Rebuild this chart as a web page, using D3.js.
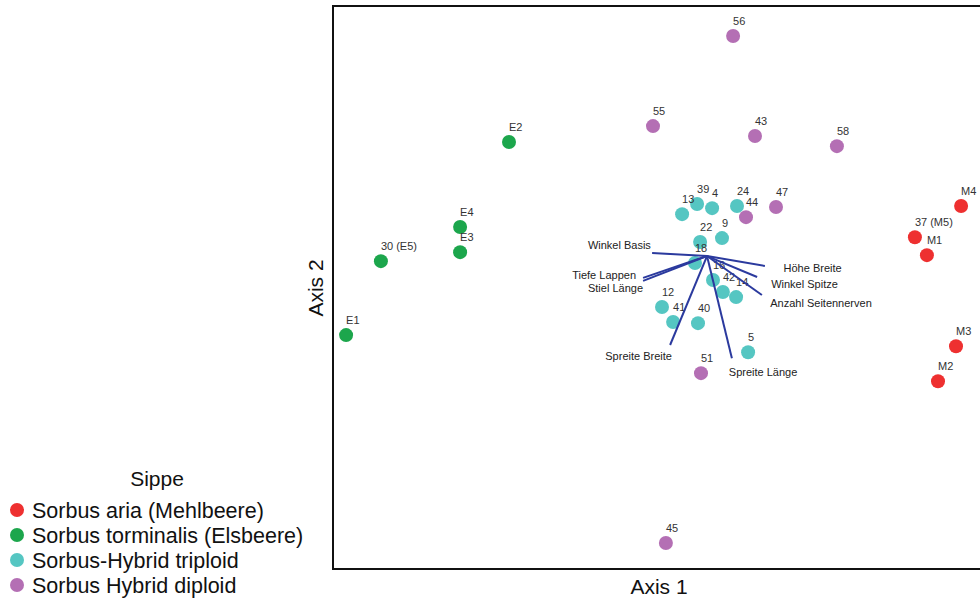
<!DOCTYPE html>
<html>
<head>
<meta charset="utf-8">
<script src="https://cdn.jsdelivr.net/npm/d3@7"></script>
<style>
  body { margin: 0; background: #fff; }
  svg { font-family: "Liberation Sans", Arial, sans-serif; }
</style>
</head>
<body>
<div id="chart"></div>
<script>
// groups (Sippe)
var groups = ["Sorbus aria (Mehlbeere)", "Sorbus torminalis (Elsbeere)", "Sorbus-Hybrid triploid", "Sorbus Hybrid diploid"];
var groupColors = ["#ee3030", "#1ca64c", "#55c6c2", "#b46fb4"];

// site scores: label, group index, axis 1, axis 2
var siteLabels = ["M4", "37 (M5)", "M1", "M3", "M2",
    "E2", "E4", "E3", "30 (E5)", "E1",
    "13", "39", "4", "24", "22", "9", "18", "16", "42", "14", "12", "41", "40", "5",
    "56", "55", "43", "58", "47", "44", "51", "45"];
var siteGroup = [0, 0, 0, 0, 0,
    1, 1, 1, 1, 1,
    2, 2, 2, 2, 2, 2, 2, 2, 2, 2, 2, 2, 2, 2,
    3, 3, 3, 3, 3, 3, 3, 3];
var axis1 = [0.847, 0.693, 0.733, 0.830, 0.770,
    -0.660, -0.823, -0.823, -1.087, -1.203,
    -0.083, -0.033, 0.017, 0.100, -0.023, 0.050, -0.040, 0.020, 0.053, 0.097, -0.150, -0.113, -0.030, 0.137,
    0.087, -0.180, 0.160, 0.433, 0.230, 0.130, -0.020, -0.137];
var axis2 = [0.167, 0.063, 0.003, -0.301, -0.418,
    0.381, 0.097, 0.013, -0.017, -0.264,
    0.140, 0.174, 0.160, 0.167, 0.047, 0.060, -0.023, -0.080, -0.120, -0.137, -0.170, -0.220, -0.224, -0.321,
    0.735, 0.434, 0.401, 0.367, 0.164, 0.130, -0.391, -0.958];

// fitted variables (arrows from origin) and where their names sit
var varNames = ["Winkel Basis", "Tiefe Lappen", "Stiel Länge", "Höhe Breite", "Winkel Spitze",
    "Anzahl Seitennerven", "Spreite Breite", "Spreite Länge"];
var varAxis1 = [-0.183, -0.213, -0.213, 0.193, 0.167, 0.183, -0.123, 0.083];
var varAxis2 = [0.010, -0.073, -0.083, -0.033, -0.070, -0.130, -0.297, -0.341];
var varLabel1 = [-0.292, -0.343, -0.305, 0.352, 0.325, 0.380, -0.228, 0.187];
var varLabel2 = [0.037, -0.063, -0.107, -0.040, -0.093, -0.157, -0.334, -0.387];

var svg = d3.select("#chart").append("svg")
    .attr("width", 980)
    .attr("height", 600);

var x = d3.scaleLinear()
    .domain([-1.25, 1])
    .range([332, 1007]);

var y = d3.scaleLinear()
    .domain([-1.045, 0.835])
    .range([569, 6]);

// plot frame (right side runs off the picture)
svg.append("rect")
    .attr("x", x(-1.25) + 1)
    .attr("y", y(0.835))
    .attr("width", 700)
    .attr("height", y(-1.045) - y(0.835))
    .attr("fill", "none")
    .attr("stroke", "#111")
    .attr("stroke-width", 2);

var sites = siteLabels.map(function (d, i) {
    return { label: d, g: siteGroup[i], a1: axis1[i], a2: axis2[i] };
});

var g = svg.append("g");

g.selectAll("circle.site")
    .data(sites)
    .enter().append("circle")
    .attr("class", "site")
    .attr("cx", function (d) { return x(d.a1); })
    .attr("cy", function (d) { return y(d.a2); })
    .attr("r", 7)
    .attr("fill", function (d) { return groupColors[d.g]; });

g.selectAll("text.site")
    .data(sites)
    .enter().append("text")
    .attr("class", "site")
    .attr("x", function (d) { return x(d.a1); })
    .attr("y", function (d) { return y(d.a2) - 11; })
    .attr("font-size", 11)
    .attr("fill", "#333")
    .text(function (d) { return d.label; });

// arrows
var vars = varNames.map(function (d, i) {
    return { name: d, a1: varAxis1[i], a2: varAxis2[i], l1: varLabel1[i], l2: varLabel2[i] };
});

g.selectAll("line.var")
    .data(vars)
    .enter().append("line")
    .attr("class", "var")
    .attr("x1", x(0))
    .attr("y1", y(0))
    .attr("x2", function (d) { return x(d.a1); })
    .attr("y2", function (d) { return y(d.a2); })
    .attr("stroke", "#2b3a9e")
    .attr("stroke-width", 2);

g.selectAll("text.var")
    .data(vars)
    .enter().append("text")
    .attr("class", "var")
    .attr("x", function (d) { return x(d.l1); })
    .attr("y", function (d) { return y(d.l2) + 4; })
    .attr("text-anchor", "middle")
    .attr("font-size", 11)
    .attr("fill", "#222")
    .text(function (d) { return d.name; });

// axis titles
svg.append("text")
    .attr("x", 659)
    .attr("y", 594)
    .attr("text-anchor", "middle")
    .attr("font-size", 21)
    .attr("fill", "#111")
    .text("Axis 1");

svg.append("text")
    .attr("transform", "translate(323,288) rotate(-90)")
    .attr("text-anchor", "middle")
    .attr("font-size", 21)
    .attr("fill", "#111")
    .text("Axis 2");

// legend
var legend = svg.append("g");
legend.append("text")
    .attr("x", 157)
    .attr("y", 486)
    .attr("text-anchor", "middle")
    .attr("font-size", 21)
    .attr("fill", "#111")
    .text("Sippe");

var items = legend.selectAll("g.item")
    .data(groups)
    .enter().append("g")
    .attr("class", "item")
    .attr("transform", function (d, i) { return "translate(0," + (510 + i * 25) + ")"; });

items.append("circle")
    .attr("cx", 17)
    .attr("cy", 0)
    .attr("r", 7)
    .attr("fill", function (d, i) { return groupColors[i]; });

items.append("text")
    .attr("x", 32)
    .attr("y", 7.5)
    .attr("font-size", 21.5)
    .attr("fill", "#111")
    .text(function (d) { return d; });
</script>
</body>
</html>
